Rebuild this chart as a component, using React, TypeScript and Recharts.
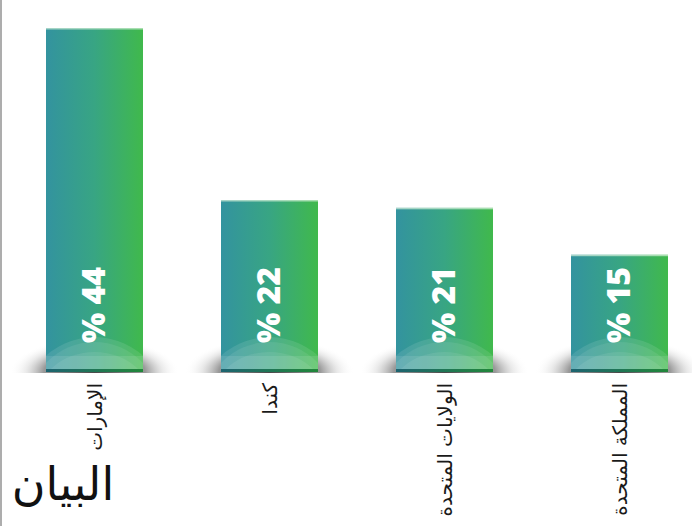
import { BarChart, Bar, XAxis, YAxis, LabelList } from "recharts"

const categories = ["الإمارات", "كندا", "الولايات المتحدة", "المملكة المتحدة"]
const values = [44, 22, 21, 15]
const yDomain = [0, 44]

const data = categories.map((name, i) => ({ name, value: values[i] }))

function BarShape(props: any) {
    const { x, y, width, height, index } = props
    const bottom = y + height
    const cx = x + width / 2
    return (
        <g>
            <clipPath id={`above${index}`}>
                <rect x={x - 60} y={bottom - 60} width={width + 120} height={61} />
            </clipPath>
            <clipPath id={`inside${index}`}>
                <rect x={x} y={y} width={width} height={height} />
            </clipPath>
            <ellipse cx={cx} cy={bottom} rx={width / 2 + 36} ry={34} fill="url(#floorShadow)" clipPath={`url(#above${index})`} />
            <rect x={x} y={y} width={width} height={height} fill="url(#barFill)" />
            <rect x={x} y={y} width={width} height={1.5} fill="#d6efd8" opacity={0.7} />
            <g clipPath={`url(#inside${index})`}>
                <ellipse cx={cx} cy={bottom + 50} rx={width * 0.8} ry={85} fill="#ffffff" opacity={0.1} />
                <ellipse cx={cx} cy={bottom + 40} rx={width * 0.7} ry={70} fill="#ffffff" opacity={0.08} />
                <ellipse cx={cx} cy={bottom + 30} rx={width * 0.6} ry={50} fill="#ffffff" opacity={0.08} />
                <rect x={x} y={bottom - 16} width={width} height={13} fill="#ffffff" opacity={0.1} />
                <rect x={x} y={bottom - 3} width={width} height={3} fill="url(#baseFill)" />
            </g>
        </g>
    )
}

function ValueLabel(props: any) {
    const { x, y, width, height, value } = props
    const cx = x + width / 2 - 2
    const cy = y + height - 67
    return (
        <text
            x={cx}
            y={cy}
            transform={`rotate(-90 ${cx} ${cy})`}
            textAnchor="middle"
            dominantBaseline="central"
            fill="#ffffff"
            fontFamily="'Open Sans', sans-serif"
            fontWeight={800}
            fontSize={32}
        >
            {`% ${value}`}
        </text>
    )
}

function CategoryTick(props: any) {
    const { x, payload } = props
    const ty = 383
    return (
        <text
            x={x}
            y={ty}
            transform={`rotate(-90 ${x} ${ty})`}
            textAnchor="end"
            dominantBaseline="central"
            fill="#1a1a1a"
            fontFamily="'DejaVu Sans', sans-serif"
            fontSize={20}
        >
            {payload.value}
        </text>
    )
}

export default function App() {
    return (
        <div style={{ position: "absolute", left: 0, top: 0, width: 692, height: 526, overflow: "hidden", background: "#fff" }}>
            <div style={{ position: "absolute", left: 0, top: 0, width: 2, height: 526, background: "#adadad" }} />
            <BarChart width={708} height={526} data={data} margin={{ top: 28, right: 1, left: 7, bottom: 0 }}>
                <defs>
                    <linearGradient id="barFill" x1="0" y1="0" x2="1" y2="0">
                        <stop offset="0%" stopColor="#33939f" />
                        <stop offset="50%" stopColor="#38a583" />
                        <stop offset="100%" stopColor="#40b94c" />
                    </linearGradient>
                    <linearGradient id="baseFill" x1="0" y1="0" x2="1" y2="0">
                        <stop offset="0%" stopColor="#1d6470" />
                        <stop offset="100%" stopColor="#21873a" />
                    </linearGradient>
                    <radialGradient id="floorShadow" cx="0.5" cy="0.5" r="0.5">
                        <stop offset="0%" stopColor="#333333" stopOpacity={0.9} />
                        <stop offset="60%" stopColor="#555555" stopOpacity={0.6} />
                        <stop offset="80%" stopColor="#999999" stopOpacity={0.22} />
                        <stop offset="100%" stopColor="#ffffff" stopOpacity={0} />
                    </radialGradient>
                </defs>
                <XAxis dataKey="name" height={154} axisLine={false} tickLine={false} interval={0} tick={<CategoryTick />} />
                <YAxis hide domain={yDomain} />
                <Bar dataKey="value" barSize={97} shape={<BarShape />} isAnimationActive={false}>
                    <LabelList dataKey="value" content={<ValueLabel />} />
                </Bar>
            </BarChart>
            <div
                style={{
                    position: "absolute",
                    left: 6,
                    top: 452,
                    width: 114,
                    textAlign: "center",
                    direction: "rtl",
                    fontFamily: "'DejaVu Sans', serif",
                    fontSize: 46,
                    color: "#111",
                    lineHeight: "64px",
                }}
            >
                البيان
            </div>
        </div>
    )
}
